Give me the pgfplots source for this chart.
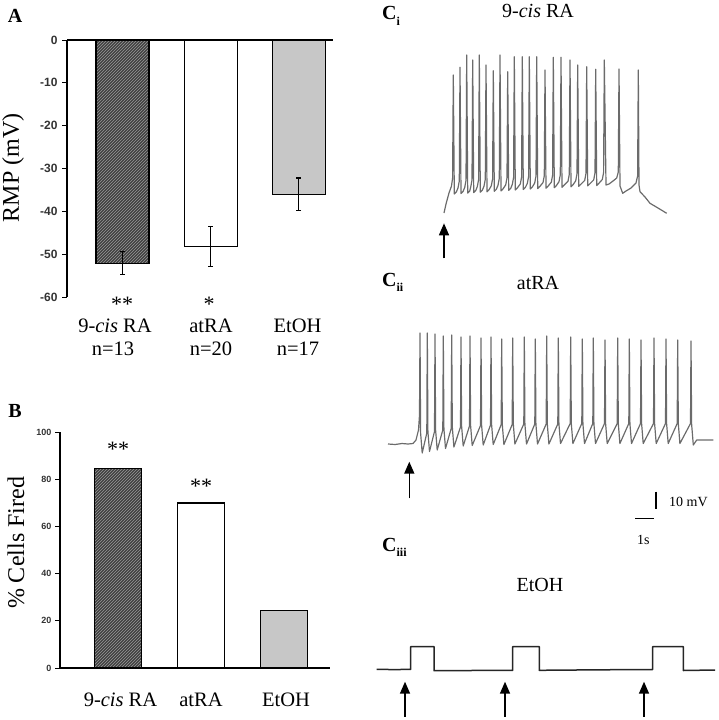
\documentclass[border=0pt]{standalone}
\usepackage{fontspec}
\setmainfont{Liberation Serif}
\setsansfont{Liberation Sans}
\usepackage{pgfplots}
\pgfplotsset{compat=1.18}
\usetikzlibrary{patterns,arrows.meta}
\begin{document}
\begin{tikzpicture}[x=1pt,y=1pt]
\path[use as bounding box] (0pt,0pt) rectangle (718pt,720pt);

% ---------------- Panel A ----------------
\begin{axis}[
  at={(67pt,423pt)}, anchor=south west, scale only axis,
  width=266pt, height=257pt,
  xmin=-0.63, xmax=2.39, ymin=-60, ymax=0,
  axis x line*=top, axis y line*=left,
  xtick=\empty, ytick={-60,-50,-40,-30,-20,-10,0},
  tick align=outside, major tick length=5pt,
  every tick/.style={black, line width=0.9pt},
  axis line style={line width=1.1pt},
  /pgf/number format/assume math mode=true,
  yticklabel style={font=\fontsize{12}{12}\selectfont\sffamily\bfseries, text=black!80, xshift=-1pt},
  clip=false,
]
\addplot[ybar, bar shift=0pt, bar width=53pt, draw=black, line width=1.1pt, fill=black!75,
  postaction={pattern=north east lines, pattern color=black!40},
  error bars/.cd, y dir=both, y explicit,
  error bar style={line width=1.3pt, black},
  error mark options={rotate=90, mark size=2.5pt, line width=1.3pt, black}]
  coordinates {(0,-52.1) +- (0,2.7)};
\addplot[ybar, bar shift=0pt, bar width=53pt, draw=black, line width=1.1pt, fill=white,
  error bars/.cd, y dir=both, y explicit,
  error bar style={line width=1.3pt, black},
  error mark options={rotate=90, mark size=2.5pt, line width=1.3pt, black}]
  coordinates {(1,-48.2) +- (0,4.6)};
\addplot[ybar, bar shift=0pt, bar width=53pt, draw=black, line width=1.1pt, fill=black!22,
  error bars/.cd, y dir=both, y explicit,
  error bar style={line width=1.3pt, black},
  error mark options={rotate=90, mark size=2.5pt, line width=1.3pt, black}]
  coordinates {(2,-36.0) +- (0,3.8)};
\end{axis}

% ---------------- Panel B ----------------
\begin{axis}[
  at={(60pt,52pt)}, anchor=south west, scale only axis,
  width=270pt, height=236pt,
  xmin=-0.699, xmax=2.554, ymin=0, ymax=100,
  axis x line*=bottom, axis y line*=left,
  xtick=\empty, ytick={0,20,40,60,80,100},
  tick align=outside, major tick length=5pt,
  every tick/.style={black, line width=0.9pt},
  axis line style={line width=1.1pt},
  /pgf/number format/assume math mode=true,
  yticklabel style={font=\fontsize{9}{9}\selectfont\sffamily\bfseries, text=black!80},
  clip=false,
]
\addplot[ybar, bar shift=0pt, bar width=47pt, draw=black, line width=1.1pt, fill=black!75,
  postaction={pattern=north east lines, pattern color=black!40}]
  coordinates {(0,84.7)};
\addplot[ybar, bar shift=0pt, bar width=47pt, draw=black, line width=1.1pt, fill=white]
  coordinates {(1,69.9)};
\addplot[ybar, bar shift=0pt, bar width=47pt, draw=black, line width=1.1pt, fill=black!22]
  coordinates {(2,24.2)};
\end{axis}

% ---------------- Panel C traces ----------------
\begin{axis}[
  at={(370pt,0pt)}, anchor=south west, scale only axis,
  width=348pt, height=720pt,
  xmin=370, xmax=718, ymin=0, ymax=720, y dir=reverse,
  hide axis, clip=false,
]
% Ci trace (9-cis RA)
\addplot[mark=none, black!58, line width=1.2pt, line join=round] coordinates {
(444,213) (446,204) (449,193) (451.5,186) (452.6,178) (453.3,75)
(454.3,194) (456.3,192) (458,188) (459.3,181) (460,67.3)
(461,193.5) (463,191.5) (464.7,187.5) (466,180.5) (466.7,55)
(467.7,193.1) (469.7,191.1) (470.7,187.1) (472,180.1) (472.7,60)
(473.7,192.6) (475.7,190.6) (477.3,186.6) (478.6,179.6) (479.3,55)
(480.3,192.2) (482.3,190.2) (484,186.2) (485.3,179.2) (486,65)
(487,191.8) (489,189.8) (491.3,185.8) (492.6,178.8) (493.3,70.7)
(494.3,191.3) (496.3,189.3) (498,185.3) (499.3,178.3) (500,55)
(501,190.9) (503,188.9) (505.7,184.9) (507,177.9) (507.7,71.7)
(508.7,190.4) (510.7,188.4) (512.3,184.4) (513.6,177.4) (514.3,56.7)
(515.3,190) (517.3,188) (520.3,184) (521.6,177) (522.3,56.7)
(523.3,189.5) (525.3,187.5) (527.3,183.5) (528.6,176.5) (529.3,56.7)
(530.3,189) (532.3,187) (534.7,183) (536,176) (536.7,56.7)
(537.7,188.6) (539.7,186.6) (543,182.6) (544.3,175.6) (545,70)
(546,188.2) (548,186.2) (551.3,182.2) (552.6,175.2) (553.3,57.3)
(554.3,187.7) (556.3,185.7) (559,181.7) (560.3,174.7) (561,57.3)
(562,187.3) (564,185.3) (568,181.3) (569.3,174.3) (570,60)
(571,186.8) (573,184.8) (575.7,180.8) (577,173.8) (577.7,65)
(578.7,186.4) (580.7,184.4) (584.7,180.4) (586,173.4) (586.7,66.7)
(587.7,185.9) (589.7,183.9) (593.7,179.9) (595,172.9) (595.7,69.3)
(596.7,185.5) (598.7,183.5) (602.3,179.5) (603.6,172.5) (604.3,60)
(606,185) (609,184) (613,181) (616.7,178) (618.3,172) (619,69)
(620,186) (622.7,193.3) (626,191) (631,188) (636,183) (637.6,176) (638.3,70)
(639,185) (640,191.7) (645,197) (650,203.3) (658,208) (666.7,213.3)
};
% Cii trace (atRA)
\addplot[mark=none, black!58, line width=1.2pt, line join=round] coordinates {
(388,444) (395,444.5) (402,443.5) (408,444) (413,443.5) (416,440) (418.5,430) (419.5,415)
(420,333) (420.6,433) (422.2,453) (426.8,433)
(427.3,333) (427.9,431.5) (429.5,451.5) (434.5,431.5)
(435,334) (435.6,430) (437.2,450) (442.8,430)
(443.3,336) (443.9,428.5) (445.5,448.5) (451.2,428.5)
(451.7,335) (452.3,427) (453.9,447) (460.5,427)
(461,337) (461.6,426) (463.2,446) (469.5,426)
(470,336) (470.6,425.5) (472.2,445.5) (480.5,425.5)
(481,338) (481.6,425) (483.2,445) (490.5,425)
(491,337) (491.6,424.5) (493.2,444.5) (501.2,424.5)
(501.7,339) (502.3,424.5) (503.9,444.5) (512.2,424.5)
(512.7,338) (513.3,424) (514.9,444) (523.8,424)
(524.3,337) (524.9,424) (526.5,444) (534.8,424)
(535.3,339) (535.9,424) (537.5,444) (546.2,424)
(546.7,336) (547.3,424) (548.9,444) (557.8,424)
(558.3,338) (558.9,423.5) (560.5,443.5) (570.2,423.5)
(570.7,337) (571.3,423.5) (572.9,443.5) (581.8,423.5)
(582.3,339) (582.9,423.5) (584.5,443.5) (592.8,423.5)
(593.3,338) (593.9,423.5) (595.5,443.5) (604.5,423.5)
(605,340) (605.6,423.5) (607.2,443.5) (617.2,423.5)
(617.7,338) (618.3,423.5) (619.9,443.5) (628.8,423.5)
(629.3,339) (629.9,423.5) (631.5,443.5) (640.5,423.5)
(641,340) (641.6,423.5) (643.2,443.5) (653.5,423.5)
(654,338) (654.6,423.5) (656.2,443.5) (665.5,423.5)
(666,339) (666.6,423.5) (668.2,443.5) (677.2,423.5)
(677.7,340) (678.3,423.5) (679.9,443.5) (690.5,423.5)
(691,341) (691.6,424) (693.3,445) (696.7,440) (713.3,440)
};
% Ciii trace (EtOH)
\addplot[mark=none, black!85, line width=1.5pt, line join=round] coordinates {
(376.7,669.3) (395,669.6) (410.7,669.3) (410.7,646.7) (434,646.7) (434,670.7)
(470,670.5) (512.7,670.3) (512.7,646.7) (539.3,646.7) (539.3,670.3)
(600,669.8) (652.7,669.5) (652.7,646.7) (683.3,646.7) (683.3,670.5) (715,670)
};
% arrows
\addplot[mark=none, black, line width=1.5pt, -{Triangle[width=10pt,length=12pt]}] coordinates {(444,258.3) (444,223.3)};
\addplot[mark=none, black, line width=1.5pt, -{Triangle[width=10pt,length=12pt]}] coordinates {(409.3,498.3) (409.3,461.7)};
\addplot[mark=none, black, line width=1.5pt, -{Triangle[width=10pt,length=12pt]}] coordinates {(405,716.7) (405,681.7)};
\addplot[mark=none, black, line width=1.5pt, -{Triangle[width=10pt,length=12pt]}] coordinates {(505,716.7) (505,681.7)};
\addplot[mark=none, black, line width=1.5pt, -{Triangle[width=10pt,length=12pt]}] coordinates {(644,716.7) (644,681.7)};
% scale bars
\addplot[mark=none, black, line width=1.8pt] coordinates {(656,491.7) (656,509.3)};
\addplot[mark=none, black, line width=1.6pt] coordinates {(635,518.3) (654.3,518.3)};
\end{axis}

% ---------------- Text ----------------
% Panel A
\node[anchor=base] at (15pt,697pt) {\fontsize{20}{20}\selectfont\textbf{A}};
\node[rotate=90] at (13pt,552pt) {\fontsize{24}{24}\selectfont RMP (mV)};
\node at (122pt,415.4pt) {\fontsize{22}{22}\selectfont **};
\node at (209pt,415.4pt) {\fontsize{22}{22}\selectfont *};
\node[anchor=base] at (115pt,387pt) {\fontsize{20.5}{20.5}\selectfont 9-\textit{cis} RA};
\node[anchor=base] at (211pt,387pt) {\fontsize{20.5}{20.5}\selectfont atRA};
\node[anchor=base] at (297.5pt,387pt) {\fontsize{20.5}{20.5}\selectfont EtOH};
\node[anchor=base] at (113pt,364pt) {\fontsize{20.5}{20.5}\selectfont n=13};
\node[anchor=base] at (211pt,364pt) {\fontsize{20.5}{20.5}\selectfont n=20};
\node[anchor=base] at (298pt,364pt) {\fontsize{20.5}{20.5}\selectfont n=17};

% Panel B
\node[anchor=base] at (15pt,302pt) {\fontsize{20}{20}\selectfont\textbf{B}};
\node[rotate=90] at (16pt,177pt) {\fontsize{24}{24}\selectfont \% Cells Fired};
\node at (118pt,270.4pt) {\fontsize{22}{22}\selectfont **};
\node at (201pt,233.7pt) {\fontsize{22}{22}\selectfont **};
\node[anchor=base] at (120.5pt,13.3pt) {\fontsize{20.5}{20.5}\selectfont 9-\textit{cis} RA};
\node[anchor=base] at (201pt,13.3pt) {\fontsize{20.5}{20.5}\selectfont atRA};
\node[anchor=base] at (286pt,13.3pt) {\fontsize{20.5}{20.5}\selectfont EtOH};

% Panel C
\node[anchor=base west, inner sep=0pt] at (382pt,700pt) {\fontsize{20}{20}\selectfont\textbf{C}\raisebox{-6pt}{\fontsize{12}{12}\selectfont\textbf{i}}};
\node[anchor=base] at (538pt,702pt) {\fontsize{20}{20}\selectfont 9-\textit{cis} RA};
\node[anchor=base west, inner sep=0pt] at (382pt,433pt) {\fontsize{20}{20}\selectfont\textbf{C}\raisebox{-5pt}{\fontsize{12}{12}\selectfont\textbf{ii}}};
\node[anchor=base] at (538pt,430pt) {\fontsize{20}{20}\selectfont atRA};
\node[anchor=base west, inner sep=0pt] at (382pt,168pt) {\fontsize{20}{20}\selectfont\textbf{C}\raisebox{-5pt}{\fontsize{12}{12}\selectfont\textbf{iii}}};
\node[anchor=base] at (540pt,128pt) {\fontsize{20}{20}\selectfont EtOH};
\node[anchor=base west, inner sep=0pt] at (669pt,213pt) {\fontsize{14}{14}\selectfont 10 mV};
\node[anchor=base west, inner sep=0pt] at (637pt,175pt) {\fontsize{14}{14}\selectfont 1s};
\end{tikzpicture}
\end{document}
